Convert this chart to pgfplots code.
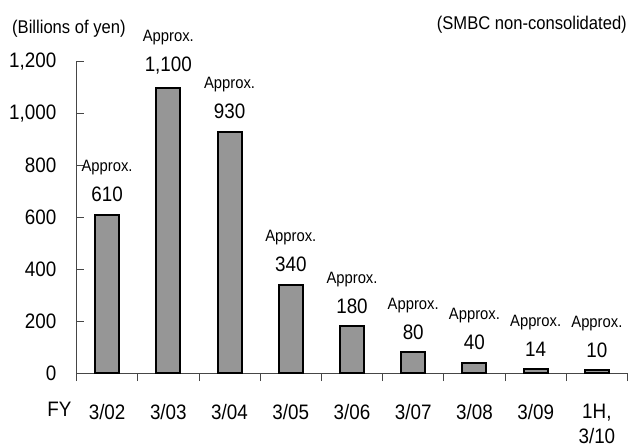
\documentclass[border=0pt]{standalone}
\usepackage{fontspec}
\setmainfont{Liberation Sans}[FakeStretch=0.9]
\usepackage{pgfplots}
\pgfplotsset{compat=1.18}
\definecolor{barfill}{RGB}{150,150,150}
\definecolor{axgray}{RGB}{70,70,70}
\begin{document}
\begin{tikzpicture}
\begin{axis}[scale only axis, width=551bp, height=311.3bp,
 xmin=-0.5, xmax=8.5, ymin=0, ymax=1200,
 axis x line=bottom, axis y line=left,
 axis line style={-, axgray, line width=0.8bp},
 tick style={axgray, line width=0.8bp}, tick align=inside, major tick length=8bp,
 xtick={-0.5,0.5,...,8.5}, x tick label as interval,
 xticklabels={3/02,3/03,3/04,3/05,3/06,3/07,3/08,3/09,{1H,\\3/10}},
 xticklabel style={align=center, anchor=north, inner sep=0pt, yshift=-23bp, font=\fontsize{21}{25}\selectfont},
 ytick={0,200,...,1200},
 yticklabel style={anchor=east, inner sep=0pt, xshift=-20bp, font=\fontsize{21}{24}\selectfont},
 /pgf/number format/assume math mode=true, /pgf/number format/1000 sep={,},
 ybar, bar width=24bp, bar shift=0pt,
 clip=false,
 point meta=explicit symbolic,
 nodes near coords,
 every node near coord/.append style={anchor=south, inner sep=0pt, yshift=12bp, black,
   font=\fontsize{21}{24}\selectfont,
   label={[font=\fontsize{16.5}{19}\selectfont, inner sep=0pt, yshift=10bp, black]above:Approx.}},
]
\addplot[fill=barfill, draw=black, line width=2bp] table[meta=lab] {
x y lab
0 610 610
1 1100 1,100
2 930 930
3 340 340
4 180 180
5 80 80
6 40 40
7 14 14
8 10 10
};
\coordinate (BL) at (rel axis cs:0,0);
\end{axis}
\node[anchor=base west, inner sep=0pt, font=\fontsize{18.5}{22}\selectfont] at ([xshift=-64.5bp,yshift=339bp]BL) {(Billions of yen)};
\node[anchor=base east, inner sep=0pt, font=\fontsize{18.5}{22}\selectfont] at ([xshift=550.5bp,yshift=343.7bp]BL) {(SMBC non-consolidated)};
\node[anchor=base east, inner sep=0pt, font=\fontsize{21}{24}\selectfont] at ([xshift=-4.8bp,yshift=-43.7bp]BL) {FY};
\pgfresetboundingbox
\path[use as bounding box] ([xshift=-76.5bp,yshift=-75bp]BL) rectangle ++(629bp,448bp);
\end{tikzpicture}
\end{document}
